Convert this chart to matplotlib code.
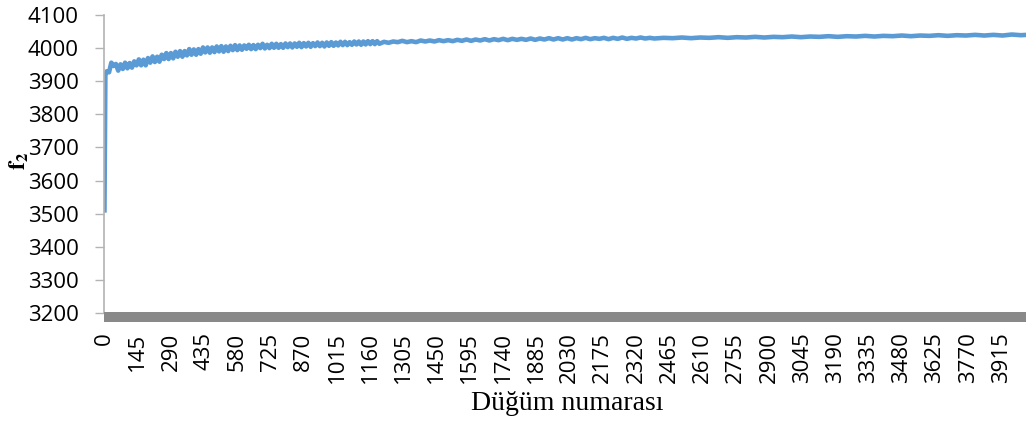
import matplotlib
matplotlib.use("Agg")
import matplotlib.pyplot as plt
from matplotlib.patches import Rectangle

# node numbers (Düğüm numarası): denser where the curve is noisier
node = ([0, 4] + list(range(10, 1201, 10)) + list(range(1220, 2401, 20))
        + list(range(2440, 4001, 40)) + [4025])

# f2 values (noisy band)
f2 = [3510, 3918,
      # 10 .. 600
      3930, 3927, 3956, 3946, 3952, 3932, 3951, 3937, 3956, 3939,
      3955, 3941, 3960, 3948, 3966, 3948, 3965, 3948, 3970, 3956,
      3975, 3958, 3974, 3959, 3980, 3967, 3985, 3967, 3985, 3969,
      3989, 3974, 3991, 3974, 3991, 3978, 3997, 3980, 3996, 3980,
      3997, 3983, 4002, 3987, 4002, 3986, 4002, 3988, 4005, 3990,
      4006, 3989, 4005, 3991, 4007, 3994, 4009, 3994, 4008, 3995,
      # 610 .. 1200
      4008, 3998, 4010, 3997, 4009, 3997, 4010, 4000, 4013, 3999,
      4010, 4000, 4013, 4001, 4013, 4001, 4012, 4001, 4014, 4003,
      4014, 4002, 4014, 4004, 4016, 4003, 4015, 4005, 4016, 4004,
      4015, 4006, 4017, 4006, 4016, 4005, 4017, 4007, 4018, 4007,
      4017, 4008, 4019, 4009, 4019, 4009, 4018, 4010, 4020, 4011,
      4020, 4010, 4020, 4011, 4021, 4012, 4021, 4012, 4021, 4013,
      # 1220 .. 2400
      4019, 4016, 4020, 4018, 4022, 4018, 4021, 4018, 4023, 4020,
      4023, 4020, 4024, 4021, 4024, 4021, 4025, 4022, 4026, 4022,
      4026, 4023, 4027, 4023, 4027, 4024, 4028, 4024, 4028, 4025,
      4028, 4025, 4029, 4025, 4029, 4026, 4030, 4026, 4030, 4026,
      4030, 4026, 4030, 4027, 4031, 4027, 4030, 4028, 4031, 4027,
      4031, 4028, 4032, 4028, 4031, 4029, 4032, 4029, 4031, 4029,
      # 2440 .. 4000
      4031, 4030, 4032, 4030, 4032, 4031, 4033, 4031, 4033, 4032,
      4034, 4032, 4034, 4033, 4035, 4033, 4035, 4034, 4036, 4034,
      4036, 4035, 4037, 4035, 4037, 4036, 4038, 4036, 4038, 4037,
      4039, 4037, 4039, 4038, 4040, 4038, 4040, 4038, 4041, 4039,
      4040]

xticks = list(range(0, 4000, 145))
yticks = list(range(3200, 4101, 100))

W, H = 1026, 425
fig = plt.figure(figsize=(W / 100, H / 100), dpi=100)
ax = fig.add_axes([104 / W, 1 - 313 / H, (W - 104) / W, (313 - 15) / H])

ax.plot(node, f2, color="#5b9bd5", lw=3.3)

ax.set_xlim(-2, 4022)
ax.set_ylim(3200, 4100)

for s in ["top", "right", "bottom"]:
    ax.spines[s].set_visible(False)
ax.spines["left"].set_color("#b3b3b3")
ax.spines["left"].set_linewidth(1.2)

# thick grey floor under the plot
ax.add_patch(Rectangle((0, -8.7 / 298), 1, 9.7 / 298, transform=ax.transAxes,
                       facecolor="#898989", edgecolor="none", clip_on=False, zorder=3))

ax.set_yticks(yticks)
ax.set_yticklabels([str(v) for v in yticks], fontsize=16, family="Open Sans")
ax.tick_params(axis="y", length=6.5, width=1, color="#b3b3b3", pad=11.5)

ax.set_xticks(xticks)
ax.set_xticklabels([str(v) for v in xticks], rotation=90, fontsize=16,
                   family="Open Sans", va="top")
ax.tick_params(axis="x", length=0, pad=14)

fig.text(567 / W, 1 - 403 / H, "Düğüm numarası", ha="center", va="center",
         fontsize=20, family="Liberation Serif")
plt.rcParams["mathtext.fontset"] = "stix"
fig.text(19 / W, 1 - 161 / H, r"$\mathbf{f}_\mathbf{2}$", ha="center", va="center",
         rotation=90, fontsize=17)

fig.savefig("out.png", dpi=100)
